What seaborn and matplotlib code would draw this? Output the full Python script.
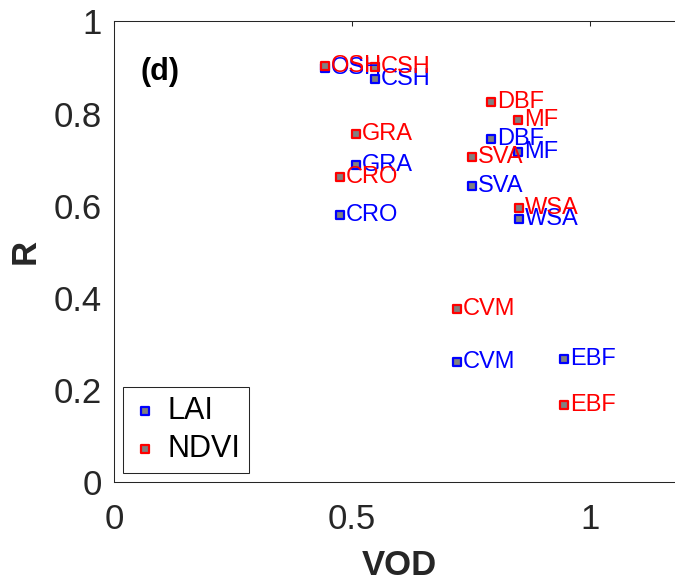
import matplotlib
matplotlib.use("Agg")
import matplotlib.pyplot as plt
import seaborn as sns
import pandas as pd

# land cover classes and correlation values
classes = ['OSH', 'CSH', 'DBF', 'MF', 'GRA', 'SVA', 'CRO', 'WSA', 'CVM', 'EBF']
vod = [0.443, 0.549, 0.792, 0.849, 0.508, 0.752, 0.475, 0.851, 0.721, 0.945]
r_lai = [0.899, 0.875, 0.745, 0.717, 0.688, 0.643, 0.580, 0.571, 0.261, 0.267]
r_ndvi = [0.903, 0.901, 0.825, 0.786, 0.756, 0.706, 0.662, 0.595, 0.376, 0.167]

sns.set_style("white")
plt.rcParams['font.family'] = ['Liberation Sans', 'DejaVu Sans']
dark = '#262626'

fig = plt.figure(figsize=(6.75, 5.84), dpi=100)
ax = fig.add_axes([0.1689, 0.1747, 0.846, 0.7885])

df = pd.DataFrame({'VOD': vod, 'LAI': r_lai, 'NDVI': r_ndvi, 'cls': classes})

series = [('LAI', 'blue'), ('NDVI', 'red')]
for name, col in series:
    sns.scatterplot(data=df, x='VOD', y=name, marker='s', color='gray',
                    edgecolor=col, linewidth=1.6, s=38, label=name, ax=ax, zorder=3)

# class labels next to each marker
for name, col in series:
    for _, row in df.iterrows():
        ax.annotate(row['cls'], (row['VOD'], row[name]), xytext=(4.3, 0),
                    textcoords='offset points', ha='left', va='center',
                    fontsize=17, color=col, zorder=4)

ax.set_xlim(0, 1.2)
ax.set_ylim(0, 1)
ax.set_xticks([0, 0.5, 1])
ax.set_xticklabels(['0', '0.5', '1'])
ax.set_yticks([0, 0.2, 0.4, 0.6, 0.8, 1])
ax.set_yticklabels(['0', '0.2', '0.4', '0.6', '0.8', '1'])
ax.tick_params(direction='in', length=3.6, width=0.75, top=True, right=True,
               labelsize=25, colors=dark, pad=9)
ax.tick_params(axis='x', pad=15)
for sp in ax.spines.values():
    sp.set_color(dark)
    sp.set_linewidth(0.75)

ax.set_xlabel('VOD', fontsize=25, fontweight='bold', color=dark)
ax.set_ylabel('R', fontsize=25, fontweight='bold', color=dark)
ax.xaxis.set_label_coords(0.5, -0.145)
ax.yaxis.set_label_coords(-0.126, 0.5)

ax.text(0.0806, 0.89, '(d)', transform=ax.transAxes, fontsize=22,
        fontweight='bold', ha='center', va='center', color='black')

leg = ax.legend(loc='lower left', bbox_to_anchor=(0.0158, 0.0195), borderaxespad=0,
                fontsize=22, frameon=True, fancybox=False, framealpha=1,
                handletextpad=0.3, labelspacing=0.25, borderpad=0.3,
                handlelength=0.85, labelcolor='black')
leg.get_frame().set_edgecolor(dark)
leg.get_frame().set_linewidth(0.75)

fig.savefig('out.png', dpi=100)
